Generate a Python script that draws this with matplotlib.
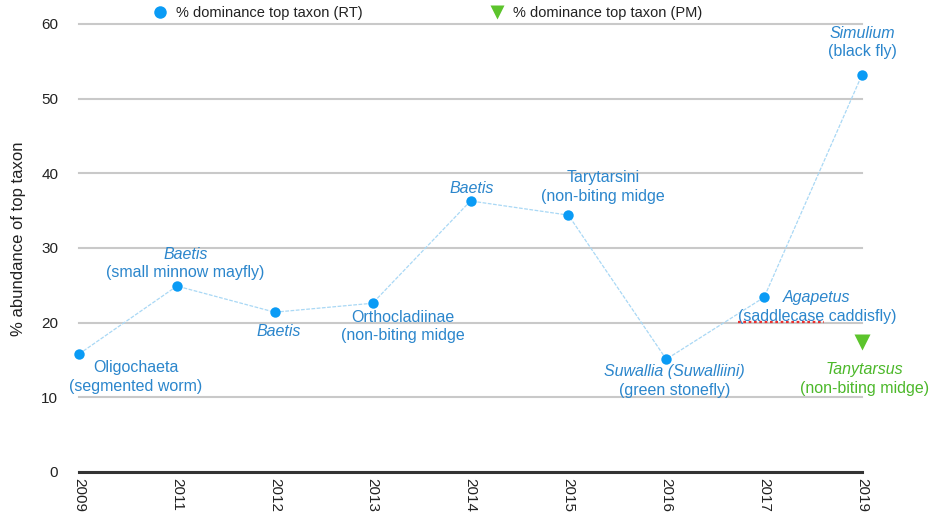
import numpy as np
import matplotlib
matplotlib.use('Agg')
from matplotlib import pyplot as plt
from matplotlib.lines import Line2D
import matplotlib.transforms as mtransforms

plt.rcParams['font.family'] = ['Liberation Sans', 'DejaVu Sans']

years = ['2009', '2011', '2012', '2013', '2014', '2015', '2016', '2017', '2019']
rt_pct = [15.8, 24.9, 21.4, 22.6, 36.3, 34.4, 15.1, 23.4, 53.2]
pm_year = '2019'
pm_pct = 17.4

# top taxon per year: (name, common name, name in italics?)
rt_taxa = [
    ('Oligochaeta', '(segmented worm)', False),
    ('Baetis', '(small minnow mayfly)', True),
    ('Baetis', '', True),
    ('Orthocladiinae', '(non-biting midge', False),
    ('Baetis', '', True),
    ('Tarytarsini', '(non-biting midge', False),
    ('Suwallia (Suwalliini)', '(green stonefly)', True),
    ('Agapetus', '(saddlecase caddisfly)', True),
    ('Simulium', '(black fly)', True),
]
pm_taxon = ('Tanytarsus', '(non-biting midge)', True)

# label offsets from each point, in points (centre of first line)
rt_offsets = [(41, -10), (6, 23), (3, -14), (22, -10), (1, 9), (25, 27), (6, -9), (38, 0), (0, 30)]
pm_offset = (2, -20)

blue = '#0a9bf5'
blue_txt = '#2b86cc'
green = '#5cc42c'
green_txt = '#4cb82a'

fig = plt.figure(figsize=(9.31, 5.25), dpi=100)
ax = fig.add_axes([0.0849, 0.1010, 0.8410, 0.8533])

x = np.arange(len(years))
ax.plot(x, rt_pct, color='#a9d8f5', lw=0.9, ls=(0, (3, 1.2)), zorder=2, clip_on=False)
ax.plot(x, rt_pct, 'o', color=blue, ms=7.5, mec='none', zorder=3, clip_on=False)
pm_x = years.index(pm_year)
ax.plot([pm_x], [pm_pct], 'v', color=green, ms=12, mec='none', zorder=3, clip_on=False)

ax.set_xlim(0, len(years) - 1)
ax.set_ylim(0, 60)
ax.set_yticks([0, 10, 20, 30, 40, 50, 60])
ax.set_xticks(x)
ax.set_xticklabels(years, rotation=270, va='top', ha='center')
ax.tick_params(axis='both', length=0, labelsize=11, colors='#222222')
ax.tick_params(axis='y', pad=15)
ax.tick_params(axis='x', pad=4)
for s in ax.spines.values():
    s.set_visible(False)
ax.yaxis.grid(True, color='#c9c9c9', lw=1.5)
for gl in ax.yaxis.get_gridlines():
    gl.set_clip_on(False)
ax.set_axisbelow(True)
ax.axhline(0, color='#333333', lw=2.2, zorder=1, clip_on=False)

ax.set_ylabel('% abundance of top taxon', fontsize=12, color='#222222')
ax.yaxis.set_label_coords(-0.068, 0.52)


def label(xi, yi, taxon, off, col):
    name, common, ital = taxon
    ax.annotate(name, (xi, yi), xytext=off, textcoords='offset points',
                ha='center', va='center', fontsize=11.5, color=col,
                style='italic' if ital else 'normal', zorder=4)
    if common:
        ax.annotate(common, (xi, yi), xytext=(off[0], off[1] - 13.5),
                    textcoords='offset points', ha='center', va='center',
                    fontsize=11.5, color=col, zorder=4)


for i, t in enumerate(rt_taxa):
    label(x[i], rt_pct[i], t, rt_offsets[i], blue_txt)
label(pm_x, pm_pct, pm_taxon, pm_offset, green_txt)

# red dotted spell-check underline below "saddlecase"
i17 = years.index('2017')
tr = mtransforms.offset_copy(ax.transData, fig=fig, x=0, y=-18, units='points')
ax.plot([x[i17] - 0.27, x[i17] + 0.61], [rt_pct[i17], rt_pct[i17]], transform=tr,
        color='#e83030', lw=1.6, ls=(0, (1.2, 1.2)), zorder=5, clip_on=False)

handles = [
    Line2D([], [], marker='o', color=blue, ls='none', ms=9, mec='none'),
    Line2D([], [], marker='v', color=green, ls='none', ms=10, mec='none'),
]
fig.legend(handles, ['% dominance top taxon (RT)', '% dominance top taxon (PM)'],
           loc='center', bbox_to_anchor=(0.459, 0.975), ncol=2, frameon=False,
           fontsize=10.5, handletextpad=0.6, columnspacing=8.7, handlelength=1.0,
           labelcolor='#222222')

fig.savefig('out.png', dpi=100)
